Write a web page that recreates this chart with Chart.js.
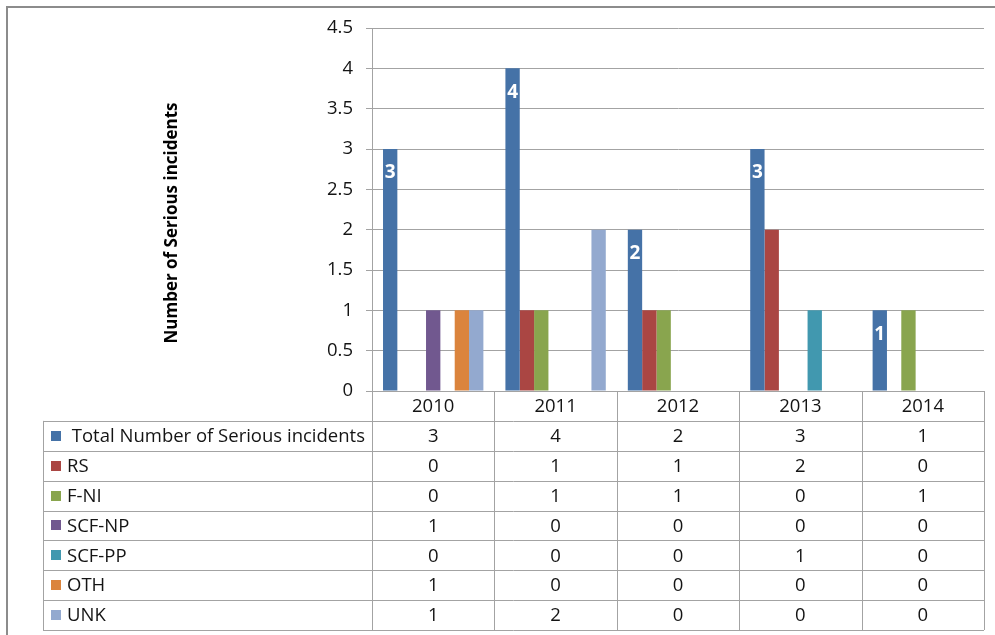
<!DOCTYPE html>
<html>
<head>
<meta charset="utf-8">
<script src="https://cdn.jsdelivr.net/npm/chart.js@4/dist/chart.umd.min.js"></script>
<style>
  html, body { margin:0; padding:0; background:#fff; }
  #wrap { width:995px; height:635px; }
</style>
</head>
<body>
<div id="wrap"><canvas id="c" width="995" height="635"></canvas></div>
<script>
(function(){
'use strict';

// data
const years   = ['2010', '2011', '2012', '2013', '2014'];
const total   = [3, 4, 2, 3, 1];
const rs      = [0, 1, 1, 2, 0];
const fni     = [0, 1, 1, 0, 1];
const scfNp   = [1, 0, 0, 0, 0];
const scfPp   = [0, 0, 0, 1, 0];
const oth     = [1, 0, 0, 0, 0];
const unk     = [1, 2, 0, 0, 0];
const seriesNames  = ['Total Number of Serious incidents', 'RS', 'F-NI', 'SCF-NP', 'SCF-PP', 'OTH', 'UNK'];
const seriesColors = ['#4572a7', '#aa4643', '#89a54e', '#71588f', '#4198af', '#db843d', '#93a9cf'];
const yTitle = 'Number of Serious incidents';

const FONT = '"Open Sans", Lato, sans-serif';
const GRID = '#a3a3a3';
const TEXT = '#141414';

const allSeries = [total, rs, fni, scfNp, scfPp, oth, unk];

// table under the plot + frame + y title + labels on the total bars
const tablePlugin = {
  id: 'dataTable',
  beforeDraw(chart){
    const ctx = chart.ctx;
    ctx.save();
    ctx.fillStyle = '#fff';
    ctx.fillRect(0, 0, chart.width, chart.height);
    ctx.strokeStyle = '#8c8c8c';
    ctx.lineWidth = 2;
    ctx.strokeRect(7, 7, chart.width + 20, chart.height + 20);
    ctx.restore();
  },
  afterDraw(chart){
    const ctx = chart.ctx;
    const area = chart.chartArea;
    const x = chart.scales.x;
    const rows = allSeries.length + 1;
    const rowH = (chart.height - 5 - area.bottom) / rows;
    const tLeft = 43;
    const tBottom = area.bottom + rowH * rows;

    ctx.save();
    ctx.strokeStyle = GRID;
    ctx.lineWidth = 1;
    ctx.beginPath();
    // header row top line
    ctx.moveTo(area.left, area.bottom + 0.5);
    ctx.lineTo(area.right, area.bottom + 0.5);
    // row lines
    for (let r = 1; r <= rows; r++) {
      const yy = Math.round(area.bottom + rowH * r) + 0.5;
      ctx.moveTo(tLeft, yy);
      ctx.lineTo(area.right, yy);
    }
    // left border
    ctx.moveTo(tLeft + 0.5, area.bottom + rowH);
    ctx.lineTo(tLeft + 0.5, tBottom);
    // category separators
    const step = (area.right - area.left) / years.length;
    for (let i = 0; i <= years.length; i++) {
      const xx = Math.round(x.getPixelForValue(i) - step / 2) + 0.5;
      ctx.moveTo(xx, area.bottom);
      ctx.lineTo(xx, tBottom);
    }
    ctx.stroke();

    ctx.fillStyle = TEXT;
    ctx.font = '18.5px ' + FONT;
    ctx.textAlign = 'center';
    ctx.textBaseline = 'middle';
    years.forEach((yr, i) => {
      ctx.fillText(yr, x.getPixelForValue(i), area.bottom + rowH / 2 + 1);
    });
    allSeries.forEach((vals, r) => {
      const cy = area.bottom + rowH * (r + 1.5) + 1;
      vals.forEach((v, i) => {
        ctx.fillText(String(v), x.getPixelForValue(i), cy);
      });
      ctx.fillStyle = seriesColors[r];
      ctx.fillRect(51, Math.round(cy - 6), 10, 10);
      ctx.fillStyle = TEXT;
      ctx.textAlign = 'left';
      ctx.fillText(r === 0 ? ' ' + seriesNames[r] : seriesNames[r], 67, cy);
      ctx.textAlign = 'center';
    });

    // y axis title
    ctx.save();
    ctx.translate(172, 223);
    ctx.rotate(-Math.PI / 2);
    ctx.font = 'bold 17px ' + FONT;
    ctx.fillStyle = '#000';
    ctx.fillText(yTitle, 0, 0);
    ctx.restore();

    // labels inside the total bars
    const meta = chart.getDatasetMeta(0);
    ctx.font = 'bold 19px ' + FONT;
    ctx.fillStyle = '#fff';
    meta.data.forEach((bar, i) => {
      ctx.fillText(String(total[i]), bar.x, bar.y + 24);
    });
    ctx.restore();
  }
};

const ctx = document.getElementById('c').getContext('2d');
new Chart(ctx, {
  type: 'bar',
  data: {
    labels: years,
    datasets: allSeries.map((vals, i) => ({
      label: seriesNames[i],
      data: vals,
      backgroundColor: seriesColors[i],
      borderWidth: 0,
      barPercentage: 1,
      categoryPercentage: 0.82
    }))
  },
  options: {
    responsive: false,
    animation: false,
    layout: { padding: { left: 156, right: 11, top: 28, bottom: 5 } },
    plugins: { legend: { display: false }, tooltip: { enabled: false } },
    scales: {
      x: {
        grid: { display: false },
        border: { display: false },
        ticks: { display: false },
        afterFit(scale){ scale.height = 239; }
      },
      y: {
        min: 0, max: 4.5,
        ticks: {
          stepSize: 0.5, color: TEXT, font: { family: FONT, size: 18.5 }, padding: 13,
          callback: v => String(v)
        },
        grid: { color: GRID, tickLength: 6 },
        border: { color: GRID },
        afterFit(scale){ scale.width = 216; }
      }
    }
  },
  plugins: [tablePlugin]
});

})();
</script>
</body>
</html>
